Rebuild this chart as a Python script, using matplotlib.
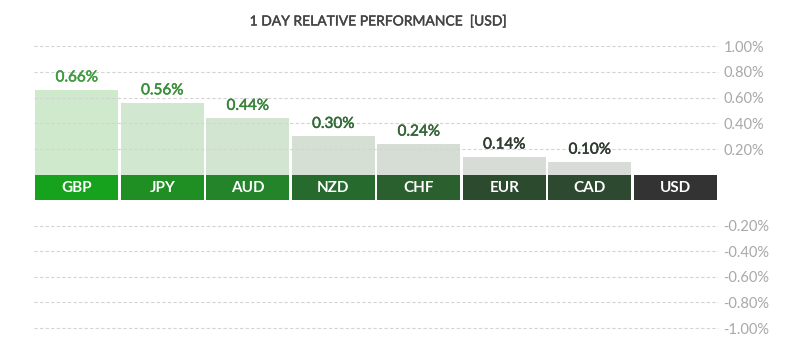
import matplotlib
matplotlib.use("Agg")
import matplotlib.pyplot as plt
import matplotlib.patheffects as pe
from matplotlib.ticker import FuncFormatter

plt.rcParams['font.family'] = ['Lato', 'DejaVu Sans']

currencies = ["GBP", "JPY", "AUD", "NZD", "CHF", "EUR", "CAD", "USD"]
performance = [0.66, 0.56, 0.44, 0.30, 0.24, 0.14, 0.10, 0.0]
strip_colors = ["#16a21c", "#1f8f24", "#23842a", "#276a2d", "#2a602d",
                "#2b4a2e", "#2d4a30", "#333333"]
bar_colors = ["#cfe9cd", "#d1e7cf", "#d2e5d0", "#d5dfd4", "#d6ddd5",
              "#d8dcd7", "#d8dcd7", "#d8dcd7"]
label_colors = ["#3d9c3d", "#3a8f3b", "#3a833b", "#346a37", "#356538",
                "#2e3d30", "#2e3a30"]
pos_ticks = [0.2, 0.4, 0.6, 0.8, 1.0]
neg_ticks = [-0.2, -0.4, -0.6, -0.8, -1.0]
title = "1 DAY RELATIVE PERFORMANCE  [USD]"

W, H = 800, 342
fig = plt.figure(figsize=(W / 100, H / 100), dpi=100)
fig.patch.set_facecolor("white")

left = 34 / W
width = 684 / W
ax_top = fig.add_axes([left, (H - 175) / H, width, 129 / H])
ax_strip = fig.add_axes([left, (H - 200) / H, width, 25 / H])
ax_bot = fig.add_axes([left, (H - 328) / H, width, 128 / H])

x = list(range(len(currencies)))
bw = 0.965
grid_color = "#d4d4d4"
tick_color = "#a8a8a8"
pct = FuncFormatter(lambda v, _: f"{v:.2f}%")


def heavier(color, lw=0.35):
    # thicken regular glyphs to a medium weight
    return [pe.withStroke(linewidth=lw, foreground=color)]


for ax in (ax_top, ax_strip, ax_bot):
    ax.set_xlim(-0.5, len(currencies) - 0.5)
    for s in ax.spines.values():
        s.set_visible(False)
    ax.set_xticks([])

# positive side
ax_top.set_ylim(0, 1.0)
ax_top.bar(x, performance, width=bw, color=bar_colors, zorder=1)
for i, (v, c) in enumerate(zip(performance, label_colors)):
    if v > 0:
        ax_top.text(i, v + 0.042, f"{v:.2f}%", ha="center", va="bottom",
                    fontsize=11, color=c, zorder=3,
                    path_effects=heavier(c))

# negative side
ax_bot.set_ylim(-1.0, 0)

for ax, ticks in ((ax_top, pos_ticks), (ax_bot, neg_ticks)):
    for t in ticks:
        ax.axhline(t, color=grid_color, lw=0.8, ls=(0, (3, 2)), zorder=2,
                   clip_on=False)
    ax.set_yticks(ticks)
    ax.yaxis.set_major_formatter(pct)
    ax.yaxis.tick_right()
    ax.tick_params(axis="y", length=0, pad=4, labelsize=10.5,
                   labelcolor=tick_color)

# currency strip
ax_strip.set_ylim(0, 1)
ax_strip.set_yticks([])
ax_strip.bar(x, [1] * len(x), width=bw, bottom=0, color=strip_colors)
for i, name in enumerate(currencies):
    ax_strip.text(i, 0.47, name, ha="center", va="center", color="white",
                  fontsize=11, fontweight="bold")

fig.text(377 / W, 1 - 21 / H, title, ha="center", va="center",
         fontsize=10, color="#444444", path_effects=heavier("#444444", 0.3))

fig.savefig("out.png", dpi=100, facecolor="white")
